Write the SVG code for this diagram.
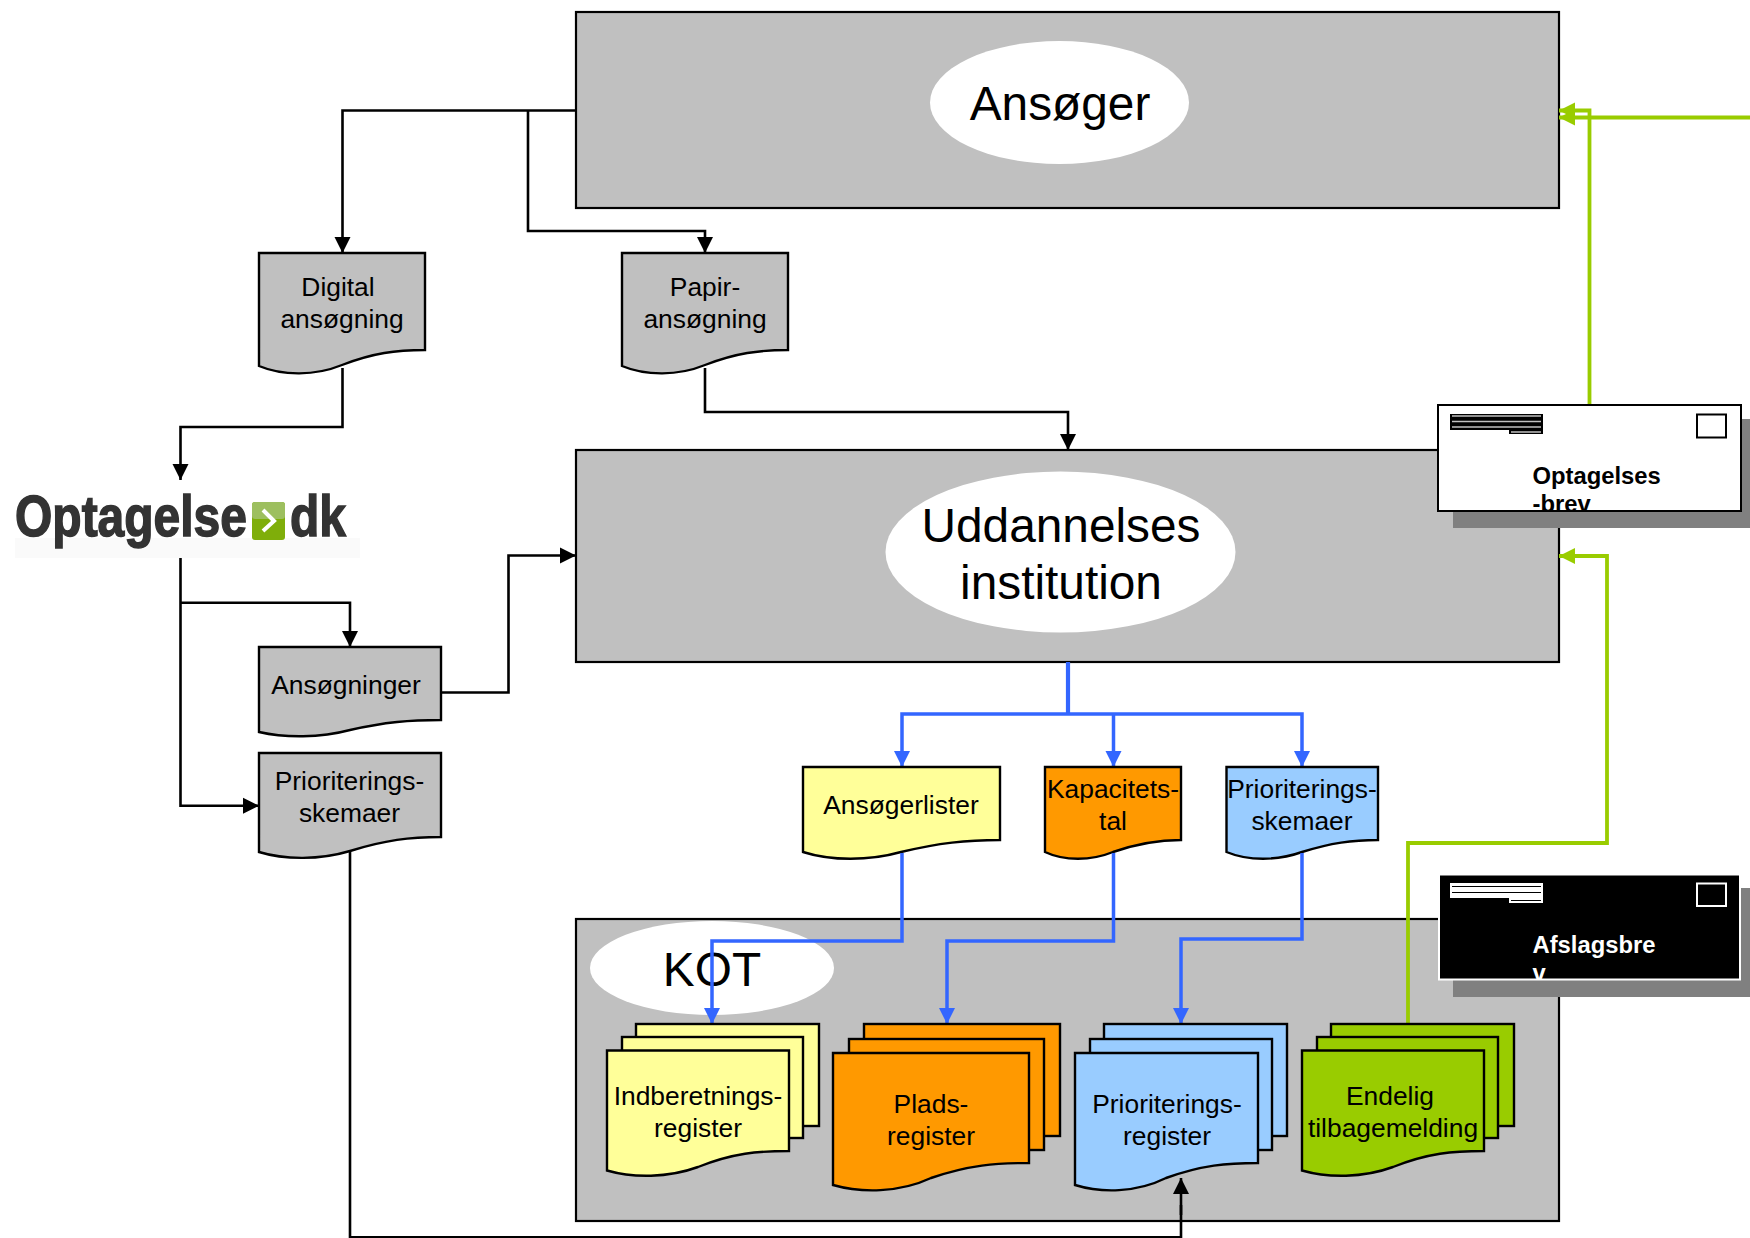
<svg xmlns="http://www.w3.org/2000/svg" width="1750" height="1238" viewBox="0 0 1750 1238">
<style>
text{font-family:"Liberation Sans",Arial,sans-serif;fill:#000}
.big{font-size:47.800px;text-anchor:middle}
.t{font-size:26.400px;text-anchor:middle}
.b{font-size:23.800px;font-weight:700}
.box{fill:#c0c0c0;stroke:#000;stroke-width:2.200}
.doc{stroke:#000;stroke-width:2.400;stroke-linejoin:miter}
.g{fill:#c0c0c0}.y{fill:#ffff99}.o{fill:#ff9900}.l{fill:#99ccff}.n{fill:#99cc00}
.wh{fill:#fff}
.k{fill:none;stroke:#000;stroke-width:2.600}
.bl{fill:none;stroke:#3366ff;stroke-width:3.500}
.gr{fill:none;stroke:#99cc00;stroke-width:3.800}
</style>
<defs>
<marker id="ak" markerUnits="userSpaceOnUse" markerWidth="17" markerHeight="17" refX="16" refY="8.500" orient="auto"><path d="M0,0.500L16,8.500L0,16.500Z" fill="#000"/></marker>
<marker id="ab" markerUnits="userSpaceOnUse" markerWidth="17" markerHeight="17" refX="16" refY="8.500" orient="auto"><path d="M0,0.500L16,8.500L0,16.500Z" fill="#3366ff"/></marker>
<marker id="ag" markerUnits="userSpaceOnUse" markerWidth="17" markerHeight="17" refX="16" refY="8.500" orient="auto"><path d="M0,0.500L16,8.500L0,16.500Z" fill="#99cc00"/></marker>
<clipPath id="c1"><rect x="1438" y="405" width="303" height="106"/></clipPath>
<clipPath id="c2"><rect x="1439" y="874" width="301" height="106"/></clipPath>
</defs>

<g id="ansoger">
<rect class="box" x="576" y="12" width="983" height="196"/>
<ellipse class="wh" cx="1059.500" cy="102.500" rx="129.500" ry="61.500"/>
<text class="big" x="1060" y="120">Ansøger</text>
</g>
<g id="uddannelses">
<rect class="box" x="576" y="450" width="983" height="212"/>
<ellipse class="wh" cx="1060.500" cy="552" rx="175" ry="80.500"/>
<text class="big" x="1061" y="542">Uddannelses</text>
<text class="big" x="1061" y="599">institution</text>
</g>
<g id="kot">
<rect class="box" x="576" y="919" width="983" height="302"/>
<ellipse class="wh" cx="712" cy="968" rx="122" ry="47"/>
<text class="big" x="712" y="986">KOT</text>
</g>

<g id="connectors">
<path class="k" d="M576,110.500H342.500V253" marker-end="url(#ak)"/>
<path class="k" d="M528,110.500V231H705V253" marker-end="url(#ak)"/>
<path class="k" d="M342.500,368V427H180.500V480" marker-end="url(#ak)"/>
<path class="k" d="M705,368V412H1068V450" marker-end="url(#ak)"/>
<path class="k" d="M180.500,558V805.700H259" marker-end="url(#ak)"/>
<path class="k" d="M180.500,602.700H350V647" marker-end="url(#ak)"/>
<path class="k" d="M441,692.500H508.500V555.500H576" marker-end="url(#ak)"/>
<path class="k" d="M350,852V1237.200H1181V1205"/>
<path class="bl" style="stroke-width:4.200" d="M1068,662V714"/>
<path class="bl" d="M1068,714H902V767" marker-end="url(#ab)"/>
<path class="bl" d="M1113.500,714V767" marker-end="url(#ab)"/>
<path class="bl" d="M1068,714H1302V767" marker-end="url(#ab)"/>
<path class="gr" d="M1750,117.500H1559" marker-end="url(#ag)"/>
<path class="gr" d="M1589.500,405V110.500H1559" marker-end="url(#ag)"/>
<path class="gr" d="M1408,1024V843H1607V556H1559" marker-end="url(#ag)"/>
</g>

<g id="digital">
<path class="doc g" d="M259,253H425V350C396,350 373,353 342,365C315,376 283,376 259,366Z"/>
<text class="t" x="338" y="296">Digital</text><text class="t" x="342" y="328">ansøgning</text>
</g>
<g id="papir">
<path class="doc g" d="M622,253H788V350C759,350 736,353 705,365C678,376 646,376 622,366Z"/>
<text class="t" x="705" y="296">Papir-</text><text class="t" x="705" y="328">ansøgning</text>
</g>
<g id="logo">
<rect x="15" y="538" width="345" height="20" fill="#fafafa"/>
<text x="15" y="536" font-size="58" font-weight="700" textLength="232" lengthAdjust="spacingAndGlyphs" style="fill:#333;stroke:#333;stroke-width:1.500">Optagelse</text>
<rect x="252" y="502" width="33" height="38" rx="3" fill="#7fae0a"/>
<rect x="252" y="502" width="33" height="17" rx="3" fill="#9dbf5f"/>
<path d="M263,510L274,521L263,531" fill="none" stroke="#fff" stroke-width="4"/>
<text x="290" y="536" font-size="58" font-weight="700" textLength="56" lengthAdjust="spacingAndGlyphs" style="fill:#333;stroke:#333;stroke-width:1.500">dk</text>
</g>
<g id="ansogninger">
<path class="doc g" d="M259,647H441V720C410,720 385,722 350,730C320,738 285,738 259,732Z"/>
<text class="t" x="346" y="694">Ansøgninger</text>
</g>
<g id="prioriterings-gray">
<path class="doc g" d="M259,753H441V837C410,837 385,840 350,851C320,860 285,860 259,852Z"/>
<text class="t" x="349.500" y="790">Prioriterings-</text><text class="t" x="349.500" y="822">skemaer</text>
</g>
<g id="ansogerlister">
<path class="doc y" d="M803,767H1000V840C966,840 939,843 901,852C869,861 831,861 803,852Z"/>
<text class="t" x="901" y="814">Ansøgerlister</text>
</g>
<g id="kapacitetstal">
<path class="doc o" d="M1045,767H1181V840C1158,840 1139,843 1113,852C1091,861 1064,861 1045,852Z"/>
<text class="t" x="1113" y="798">Kapacitets-</text><text class="t" x="1113" y="830">tal</text>
</g>
<g id="prioriterings-blue">
<path class="doc l" d="M1226.500,767H1378V840C1352,840 1331,843 1302,852C1277,861 1248,861 1226.500,852Z"/>
<text class="t" x="1302" y="798">Prioriterings-</text><text class="t" x="1302" y="830">skemaer</text>
</g>

<g id="connectors-lower">
<path class="bl" d="M902,853V941H712V1024" marker-end="url(#ab)"/>
<path class="bl" d="M1113.500,853V941H947V1024" marker-end="url(#ab)"/>
<path class="bl" d="M1302,853V939H1181V1024" marker-end="url(#ab)"/>
</g>

<g id="indberetning">
<rect class="doc y" x="636" y="1024" width="183" height="102"/>
<rect class="doc y" x="622" y="1037" width="181" height="101"/>
<path class="doc y" d="M607,1050.500H789V1151C758,1151 733,1153 698,1167C668,1178 633,1178 607,1170.500Z"/>
<text class="t" x="698" y="1105">Indberetnings-</text><text class="t" x="698" y="1137">register</text>
</g>
<g id="plads">
<rect class="doc o" x="864" y="1024" width="196" height="112"/>
<rect class="doc o" x="849" y="1039" width="195" height="111"/>
<path class="doc o" d="M833,1053H1029V1163C996,1163 969,1165 931,1178C899,1193 861,1193 833,1185Z"/>
<text class="t" x="931" y="1113">Plads-</text><text class="t" x="931" y="1145">register</text>
</g>
<g id="prioriteringsregister">
<rect class="doc l" x="1104" y="1024" width="183" height="112"/>
<rect class="doc l" x="1090" y="1039" width="182" height="111"/>
<path class="doc l" d="M1075,1053H1258V1163C1227,1163 1202,1165 1166,1178C1136,1193 1101,1193 1075,1185Z"/>
<text class="t" x="1167" y="1113">Prioriterings-</text><text class="t" x="1167" y="1145">register</text>
</g>
<g id="endelig">
<rect class="doc n" x="1331" y="1024" width="183" height="102"/>
<rect class="doc n" x="1317" y="1037" width="181" height="101"/>
<path class="doc n" d="M1302,1050.500H1484V1151C1453,1151 1428,1153 1393,1167C1363,1178 1328,1178 1302,1170.500Z"/>
<text class="t" x="1390" y="1105">Endelig</text><text class="t" x="1393" y="1137">tilbagemelding</text>
</g>
<g id="connector-top">
<path class="k" d="M1181,1215V1178" marker-end="url(#ak)"/>
</g>

<g id="optagelsesbrev">
<rect x="1453" y="419" width="297" height="109" fill="#808080"/>
<rect x="1438" y="405" width="303" height="106" fill="#fff" stroke="#000" stroke-width="2"/>
<rect x="1697" y="414.500" width="29" height="23" fill="#fff" stroke="#000" stroke-width="2"/>
<path d="M1450,414H1543V434H1509V430H1450Z" fill="#000"/>
<path d="M1452,416H1541M1452,421.500H1541M1452,427H1541M1511,432H1541" stroke="#c0c0c0" stroke-width="1.500" fill="none"/>
<g clip-path="url(#c1)"><text class="b" x="1532.500" y="483.500">Optagelses</text><text class="b" x="1532.500" y="512">-brev</text></g>
</g>
<g id="afslagsbrev">
<rect x="1453" y="888" width="297" height="109" fill="#808080"/>
<rect x="1439" y="874.500" width="301" height="105" fill="#000" stroke="#fff" stroke-width="2"/>
<rect x="1697" y="883.500" width="29" height="22.500" fill="none" stroke="#fff" stroke-width="2"/>
<path d="M1450,883H1543V903H1509V898H1450Z" fill="#fff"/>
<path d="M1452,886.500H1541M1452,892.500H1541M1511,900.500H1541" stroke="#000" stroke-width="1.200" fill="none"/>
<g clip-path="url(#c2)"><text class="b" x="1532.500" y="952.500" style="fill:#fff">Afslagsbre</text><text class="b" x="1532.500" y="981" style="fill:#fff">v</text></g>
</g>
</svg>
